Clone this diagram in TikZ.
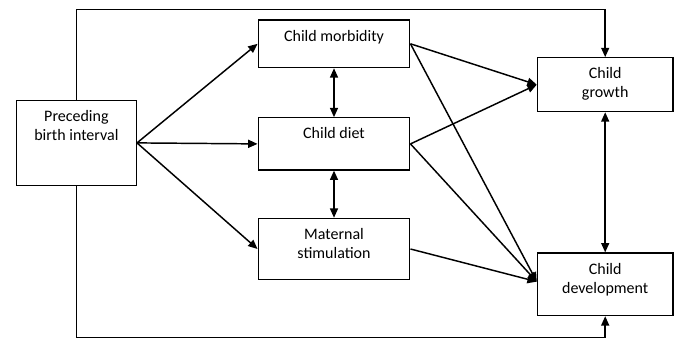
\documentclass[tikz,border=0pt]{standalone}
\usepackage{fontspec}
\setmainfont{Carlito}
\usetikzlibrary{positioning,calc,arrows.meta}

\begin{document}
\begin{tikzpicture}[x=0.75pt, y=-0.75pt,
    box/.style={draw, line width=0.9pt, inner sep=0pt, minimum width=113.8pt},
    boxtext/.style={anchor=north, inner sep=0pt, yshift=-7.8pt, align=center,
        font=\fontsize{12}{14.3}\selectfont},
    arr/.style={line width=1.1pt, -{Triangle[length=7pt,width=6pt]}},
    darr/.style={line width=1.1pt, {Triangle[length=7pt,width=6pt]}-{Triangle[length=7pt,width=6pt]}}
    ]
    \useasboundingbox (0,0) rectangle (678,339);

    % boxes
    \node[box, minimum width=90pt, minimum height=63.5pt] (pbi) at (76.4,142.9) {};
    \node[box, minimum height=35.8pt] (morb) at (334,43.8) {};
    \node[box, minimum height=39.2pt] (diet) at (334,143.9) {};
    \node[box, minimum height=46pt] (mat) at (334,249) {};
    \node[box, minimum width=101.8pt, minimum height=40.5pt] (growth) at (605.2,84.7) {};
    \node[box, minimum width=101.8pt, minimum height=47pt] (dev) at (605.2,284.3) {};

    % texts
    \node[boxtext] (pbi_t) at (pbi.north) {Preceding\\birth interval};
    \node[boxtext] (morb_t) at (morb.north) {Child morbidity};
    \node[boxtext] (diet_t) at (diet.north) {Child diet};
    \node[boxtext] (mat_t) at (mat.north) {Maternal\\stimulation};
    \node[boxtext] (growth_t) at (growth.north) {Child\\growth};
    \node[boxtext] (dev_t) at (dev.north) {Child\\development};

    \coordinate (topy) at (0,9.3);
    \coordinate (boty) at (0,337.3);

    % direct paths
    \draw[arr] (pbi.north) -- (pbi.north |- topy) -| (growth.north);
    \draw[arr] (pbi.south) -- (pbi.south |- boty) -| (dev.south);

    \foreach \b in {morb,diet,mat}
    {
        \draw[arr] (pbi.east) -- (\b.west);
    }
    \foreach \b in {morb,diet}
    {
        \draw[arr] (\b.east) -- (growth.west);
        \draw[arr] (\b.east) -- ([yshift=2pt]dev.west);
    }
    \draw[arr] (mat.east) -- ([yshift=2pt]dev.west);

    \draw[darr] (morb.south) -- (diet.north);
    \draw[darr] (diet.south) -- (mat.north);
    \draw[darr] (growth.south) -- (dev.north);

\end{tikzpicture}
\end{document}
